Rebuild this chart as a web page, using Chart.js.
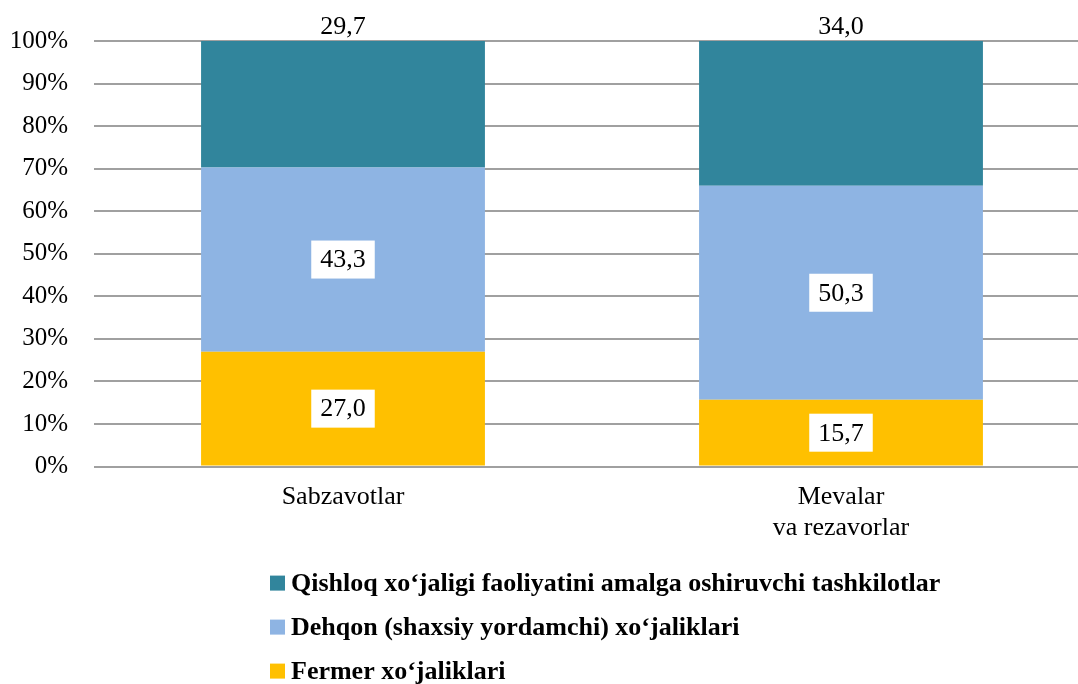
<!DOCTYPE html>
<html>
<head>
<meta charset="utf-8">
<script src="https://cdn.jsdelivr.net/npm/chart.js@4.4.0/dist/chart.umd.min.js"></script>
<style>
  html, body { margin: 0; padding: 0; background: #fff; overflow: hidden; }
  #wrap { width: 1090px; height: 684px; position: relative; }
</style>
</head>
<body>
<div id="wrap"><canvas id="chart"></canvas></div>
<script>
// --- chart data ---
const categories = ['Sabzavotlar', ['Mevalar', 'va rezavorlar']];
const fermer = [27.0, 15.7];
const dehqon = [43.3, 50.3];
const qishloq = [29.7, 34.0];
const yTicks = [0, 10, 20, 30, 40, 50, 60, 70, 80, 90, 100];

const seriesNames = [
  'Fermer xoʻjaliklari',
  'Dehqon (shaxsiy yordamchi) xoʻjaliklari',
  'Qishloq xoʻjaligi faoliyatini amalga oshiruvchi tashkilotlar'
];
const colors = ['#FFC000', '#8EB4E3', '#31859C'];

const SERIF = "'Times New Roman', 'Liberation Serif', serif";

function fmt(v) {
  return v.toFixed(1).replace('.', ',');
}

// value labels: white boxes inside lower segments, plain text above the top one
const valueLabels = {
  id: 'valueLabels',
  afterDatasetsDraw(chart) {
    const ctx = chart.ctx;
    const last = chart.data.datasets.length - 1;
    ctx.save();
    ctx.font = '26px ' + SERIF;
    ctx.textAlign = 'center';
    ctx.textBaseline = 'middle';
    chart.data.datasets.forEach((ds, i) => {
      chart.getDatasetMeta(i).data.forEach((bar, j) => {
        const txt = fmt(ds.data[j]);
        if (i === last) {
          ctx.fillStyle = '#000';
          ctx.fillText(txt, bar.x, bar.y - 14);
        } else {
          const cy = (bar.y + bar.base) / 2;
          const w = ctx.measureText(txt).width + 18;
          const h = 38;
          ctx.fillStyle = '#fff';
          ctx.fillRect(bar.x - w / 2, cy - h / 2, w, h);
          ctx.fillStyle = '#000';
          ctx.fillText(txt, bar.x, cy + 1);
        }
      });
    });
    ctx.restore();
  }
};

// legend stacked vertically, left aligned, top series first
const listLegend = {
  id: 'listLegend',
  afterDraw(chart) {
    const ctx = chart.ctx;
    const ds = chart.data.datasets.slice().reverse();
    const x = 270;
    const y0 = chart.chartArea.bottom + 117;
    ctx.save();
    ctx.font = 'bold 26px ' + SERIF;
    ctx.textBaseline = 'middle';
    ds.forEach((d, k) => {
      const y = y0 + k * 44;
      ctx.fillStyle = d.backgroundColor;
      ctx.fillRect(x, y - 8, 15, 15);
      ctx.fillStyle = '#000';
      ctx.fillText(d.label, x + 21, y + 1);
    });
    ctx.restore();
  }
};

document.addEventListener('DOMContentLoaded', () => {
  const ctx = document.getElementById('chart').getContext('2d');
  new Chart(ctx, {
    type: 'bar',
    data: {
      labels: categories,
      datasets: [
        { label: seriesNames[0], data: fermer, backgroundColor: colors[0] },
        { label: seriesNames[1], data: dehqon, backgroundColor: colors[1] },
        { label: seriesNames[2], data: qishloq, backgroundColor: colors[2] }
      ]
    },
    options: {
      responsive: true,
      maintainAspectRatio: false,
      animation: false,
      barPercentage: 0.57,
      categoryPercentage: 1,
      layout: { padding: { top: 30, right: 0, bottom: 133, left: 0 } },
      scales: {
        x: {
          stacked: true,
          grid: { display: false },
          border: { display: false },
          ticks: {
            color: '#000',
            font: { family: SERIF, size: 26 },
            padding: 7
          }
        },
        y: {
          stacked: true,
          min: 0,
          max: 100,
          afterBuildTicks(axis) {
            axis.ticks = yTicks.map(v => ({ value: v }));
          },
          afterFit(axis) {
            axis.width = 94;
          },
          grid: { color: '#a0a0a0', lineWidth: 2, drawTicks: false },
          border: { display: false },
          ticks: {
            color: '#000',
            font: { family: SERIF, size: 25 },
            padding: 26,
            callback: v => v + '%'
          }
        }
      },
      plugins: {
        legend: { display: false },
        tooltip: { enabled: false }
      }
    },
    plugins: [valueLabels, listLegend]
  });
});
</script>
</body>
</html>
